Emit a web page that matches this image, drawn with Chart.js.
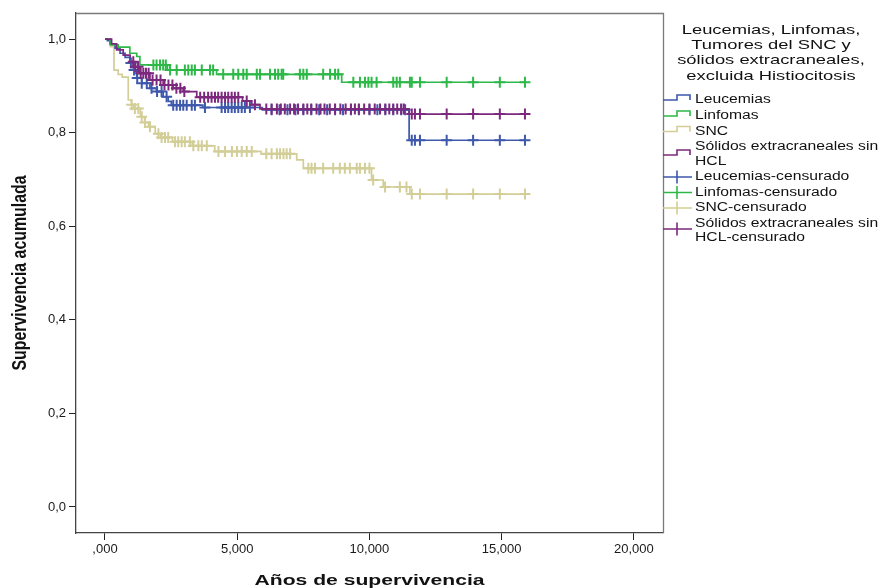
<!DOCTYPE html>
<html>
<head>
<meta charset="utf-8">
<script src="https://cdn.jsdelivr.net/npm/chart.js@4/dist/chart.umd.min.js"></script>
<style>
  html, body { margin: 0; padding: 0; background: #fff; }
</style>
</head>
<body>
<canvas id="km" width="880" height="588"></canvas>
<script>
// Kaplan-Meier steps: time (years) and cumulative survival after each drop
const leuTimes = [0, 0.09, 0.19, 0.38, 0.57, 0.76, 0.95, 1.07, 1.2, 1.39, 1.7, 1.95, 2.2, 2.39, 2.51, 3.7, 5.95, 11.5, 15.88];
const leuSurv  = [1, 0.997, 0.99, 0.981, 0.97, 0.961, 0.949, 0.934, 0.917, 0.906, 0.895, 0.888, 0.877, 0.867, 0.859, 0.854, 0.849, 0.784, 0.784];

const linTimes = [0, 0.2, 0.5, 0.94, 1.2, 1.32, 2.36, 4.22, 8.95, 15.88];
const linSurv  = [1, 0.988, 0.983, 0.97, 0.963, 0.945, 0.934, 0.925, 0.908, 0.908];

const sncTimes = [0, 0.21, 0.34, 0.5, 0.65, 0.88, 1.0, 1.09, 1.34, 1.5, 1.65, 1.9, 2.1, 2.55, 3.3, 4.15, 5.9, 7.25, 7.5, 10.08, 10.52, 11.53, 15.88];
const sncSurv  = [1, 0.984, 0.934, 0.925, 0.919, 0.87, 0.86, 0.852, 0.834, 0.822, 0.813, 0.798, 0.79, 0.781, 0.772, 0.76, 0.755, 0.742, 0.724, 0.699, 0.684, 0.669, 0.669];

const solTimes = [0, 0.25, 0.44, 0.69, 0.95, 1.12, 1.32, 1.7, 2.2, 2.58, 2.96, 3.47, 5.2, 5.55, 5.86, 11.5, 15.88];
const solSurv  = [1, 0.99, 0.977, 0.966, 0.952, 0.941, 0.927, 0.913, 0.902, 0.895, 0.888, 0.876, 0.868, 0.86, 0.851, 0.84, 0.84];

// censored observations (years)
const leuCens = [0.98, 1.1, 1.22, 1.39, 1.58, 1.76, 1.97, 2.14, 2.33, 2.58, 2.71, 2.84, 2.96, 3.09, 3.28, 3.4, 3.78, 4.41, 4.54, 4.66, 4.79, 4.91, 5.04, 5.17, 5.29, 5.48,
  6.3, 6.6, 6.9, 7.2, 7.5, 7.8, 8.1, 8.4, 8.7, 9.0, 9.3, 9.6, 10.0, 10.3, 10.6, 10.9, 11.2, 11.35, 11.6, 11.72, 11.91, 12.92, 13.92, 14.93, 15.88];
const linCens = [1.83, 1.95, 2.08, 2.2, 2.3, 2.46, 2.71, 3.02, 3.15, 3.28, 3.4, 3.66, 3.97, 4.09, 4.47, 4.85, 5.04, 5.23, 5.36, 5.74, 5.86, 6.24, 6.43, 6.55, 6.68, 6.74,
  7.37, 7.5, 7.63, 8.25, 8.51, 8.7, 8.82, 9.39, 9.64, 9.83, 9.96, 10.08, 10.27, 10.9, 11.03, 11.15, 11.53, 11.6, 11.91, 12.92, 13.92, 14.93, 15.88];
const sncCens = [1.01, 1.13, 1.26, 1.39, 1.51, 1.7, 2.02, 2.14, 2.27, 2.39, 2.65, 2.77, 2.9, 3.02, 3.21, 3.34, 3.53, 3.66, 3.85, 4.29, 4.54, 4.8, 4.99, 5.17, 5.36, 5.55,
  6.1, 6.3, 6.5, 6.62, 6.75, 6.87, 7.0, 7.69, 7.81, 7.94, 8.25, 8.63, 8.88, 9.07, 9.26, 9.52, 9.64, 9.83, 10.0, 10.14, 10.59, 11.15, 11.4, 11.6, 11.91, 12.92, 13.92, 14.93, 15.88];
const solCens = [1.07, 1.15, 1.25, 1.35, 1.45, 1.55, 1.65, 1.8, 1.95, 2.1, 2.25, 2.4, 2.55, 2.7, 2.85, 3.0, 3.6, 3.75, 3.9, 4.03, 4.16, 4.28, 4.41, 4.54, 4.66, 4.79, 4.91, 5.04,
  5.36, 5.67, 6.1, 6.3, 6.5, 6.65, 6.8, 7.0, 7.15, 7.3, 7.5, 7.65, 7.8, 8.0, 8.15, 8.3, 8.5, 8.7, 8.9, 9.1, 9.3, 9.45, 9.6, 9.8, 10.0, 10.2, 10.4, 10.6, 10.75, 10.9, 11.05, 11.2, 11.3,
  11.6, 11.72, 11.91, 12.92, 13.92, 14.93, 15.88];

const groupNames = ['Leucemias', 'Linfomas', 'SNC', 'Sólidos extracraneales sin HCL'];
const groupColors = ['#3e58ac', '#2eb848', '#d3ce97', '#7c287d'];

const xTicks = [0, 5, 10, 15, 20];
const yTicks = [0, 0.2, 0.4, 0.6, 0.8, 1.0];

const legendTitle = ['Leucemias, Linfomas,', 'Tumores del SNC y', 'sólidos extracraneales,', 'excluida Histiocitosis'];
const xTitle = 'Años de supervivencia';
const yTitle = 'Supervivencia acumulada';

// survival value of a step curve at time t
function survAt(times, surv, t) {
  let s = surv[0];
  for (let i = 0; i < times.length; i++) {
    if (times[i] <= t) s = surv[i];
  }
  return s;
}

const steps = [[leuTimes, leuSurv], [linTimes, linSurv], [sncTimes, sncSurv], [solTimes, solSurv]];
const cens = [leuCens, linCens, sncCens, solCens];
const lineOrder = [12, 11, 13, 10];
const censOrder = [1, 2, 3, 0];

const datasets = [];
steps.forEach(([times, surv], g) => {
  datasets.push({
    label: groupNames[g],
    data: times.map((t, i) => ({ x: t, y: surv[i] })),
    showLine: true,
    stepped: true,
    borderColor: groupColors[g],
    borderWidth: 1.7,
    pointRadius: 0,
    fill: false,
    order: lineOrder[g]
  });
});
cens.forEach((list, g) => {
  datasets.push({
    label: groupNames[g] + '-censurado',
    data: list.map(t => ({ x: t, y: survAt(steps[g][0], steps[g][1], t) })),
    showLine: false,
    pointStyle: 'cross',
    pointRadius: 5.5,
    pointBorderWidth: 2,
    borderColor: groupColors[g],
    backgroundColor: groupColors[g],
    order: censOrder[g]
  });
});

// text stretched horizontally like the source picture
function drawScaled(ctx, str, x, y, font, sx, align) {
  ctx.save();
  ctx.font = font;
  ctx.translate(x, y);
  ctx.scale(sx, 1);
  ctx.textAlign = align;
  ctx.textBaseline = 'middle';
  ctx.fillText(str, 0, 0);
  ctx.restore();
}

const decorPlugin = {
  id: 'decor',
  afterDraw(chart) {
    const ctx = chart.ctx;
    const a = chart.chartArea;
    ctx.save();

    // top and right frame of the plot
    ctx.strokeStyle = '#7a7a7a';
    ctx.lineWidth = 1.3;
    ctx.beginPath();
    ctx.moveTo(a.left, a.top + 0.5);
    ctx.lineTo(a.right + 0.5, a.top + 0.5);
    ctx.lineTo(a.right + 0.5, a.bottom);
    ctx.stroke();

    ctx.fillStyle = '#111';

    // axis titles
    ctx.save();
    ctx.font = 'bold 15.5px "Liberation Sans", Arial, sans-serif';
    const xw = ctx.measureText(xTitle).width;
    ctx.translate((a.left + a.right) / 2, 585);
    ctx.scale(230 / xw, 1);
    ctx.textAlign = 'center';
    ctx.textBaseline = 'alphabetic';
    ctx.fillText(xTitle, 0, 0);
    ctx.restore();

    ctx.save();
    ctx.font = 'bold 15.5px "Liberation Sans", Arial, sans-serif';
    const yw = ctx.measureText(yTitle).width;
    ctx.translate(26, (a.top + a.bottom) / 2);
    ctx.rotate(-Math.PI / 2);
    ctx.scale(195 / yw, 1.35);
    ctx.textAlign = 'center';
    ctx.textBaseline = 'alphabetic';
    ctx.fillText(yTitle, 0, 0);
    ctx.restore();

    // legend title
    const titleY = [30, 45.3, 60.6, 76];
    legendTitle.forEach((line, i) => {
      drawScaled(ctx, line, 771, titleY[i], '13.3px "Liberation Sans", Arial, sans-serif', 1.38, 'center');
    });

    // legend entries
    const entryFont = '12.5px "Liberation Sans", Arial, sans-serif';
    const sx = 1.255;
    const tx = 695;
    const x0 = 663, xm = 677, x1 = 690;
    const stepY = [100, 116, 131.5, 155];
    const stepText = [['Leucemias'], ['Linfomas'], ['SNC'], ['Sólidos extracraneales sin', 'HCL']];
    const stepTextY = [[100], [116], [131.5], [147, 161.5]];
    const censY = [177, 192.5, 208, 229];
    const censText = [['Leucemias-censurado'], ['Linfomas-censurado'], ['SNC-censurado'], ['Sólidos extracraneales sin', 'HCL-censurado']];
    const censTextY = [[177], [192.5], [208], [223.5, 238]];

    ctx.lineWidth = 1.6;
    for (let g = 0; g < 4; g++) {
      const cy = stepY[g];
      ctx.strokeStyle = groupColors[g];
      ctx.beginPath();
      ctx.moveTo(x0, cy);
      ctx.lineTo(xm, cy);
      ctx.lineTo(xm, cy - 5);
      ctx.lineTo(x1, cy - 5);
      ctx.lineTo(x1, cy);
      ctx.stroke();
      stepText[g].forEach((t, k) => drawScaled(ctx, t, tx, stepTextY[g][k], entryFont, sx, 'left'));

      const cc = censY[g];
      ctx.beginPath();
      ctx.moveTo(x0, cc);
      ctx.lineTo(x1 + 2, cc);
      ctx.moveTo(xm, cc - 6.5);
      ctx.lineTo(xm, cc + 6.5);
      ctx.stroke();
      censText[g].forEach((t, k) => drawScaled(ctx, t, tx, censTextY[g][k], entryFont, sx, 'left'));
    }
    ctx.restore();
  }
};

const tickFont = { family: '"Liberation Sans", Arial, sans-serif', size: 13 };

new Chart(document.getElementById('km'), {
  type: 'scatter',
  data: { datasets: datasets },
  options: {
    responsive: false,
    animation: false,
    devicePixelRatio: 1,
    layout: { padding: { top: 13, right: 217, left: 0, bottom: 0 } },
    plugins: {
      legend: { display: false },
      tooltip: { enabled: false }
    },
    scales: {
      x: {
        type: 'linear',
        min: -1.096,
        max: 21.1,
        afterBuildTicks: scale => { scale.ticks = xTicks.map(v => ({ value: v })); },
        afterFit: scale => { scale.height = 55; },
        ticks: {
          font: tickFont,
          color: '#1a1a1a',
          padding: 2,
          maxRotation: 0,
          callback: v => v === 0 ? ',000' : v + ',000'
        },
        grid: { drawOnChartArea: false, drawTicks: true, tickLength: 7, color: '#222' },
        border: { display: true, color: '#444', width: 1.3 },
        title: { display: false }
      },
      y: {
        type: 'linear',
        min: -0.0556,
        max: 1.056,
        afterBuildTicks: scale => { scale.ticks = yTicks.map(v => ({ value: v })); },
        afterFit: scale => { scale.width = 76; },
        ticks: {
          font: tickFont,
          color: '#1a1a1a',
          padding: 3,
          callback: v => v.toFixed(1).replace('.', ',')
        },
        grid: { drawOnChartArea: false, drawTicks: true, tickLength: 7, color: '#222' },
        border: { display: true, color: '#444', width: 1.3 },
        title: { display: false }
      }
    }
  },
  plugins: [decorPlugin]
});
</script>
</body>
</html>
